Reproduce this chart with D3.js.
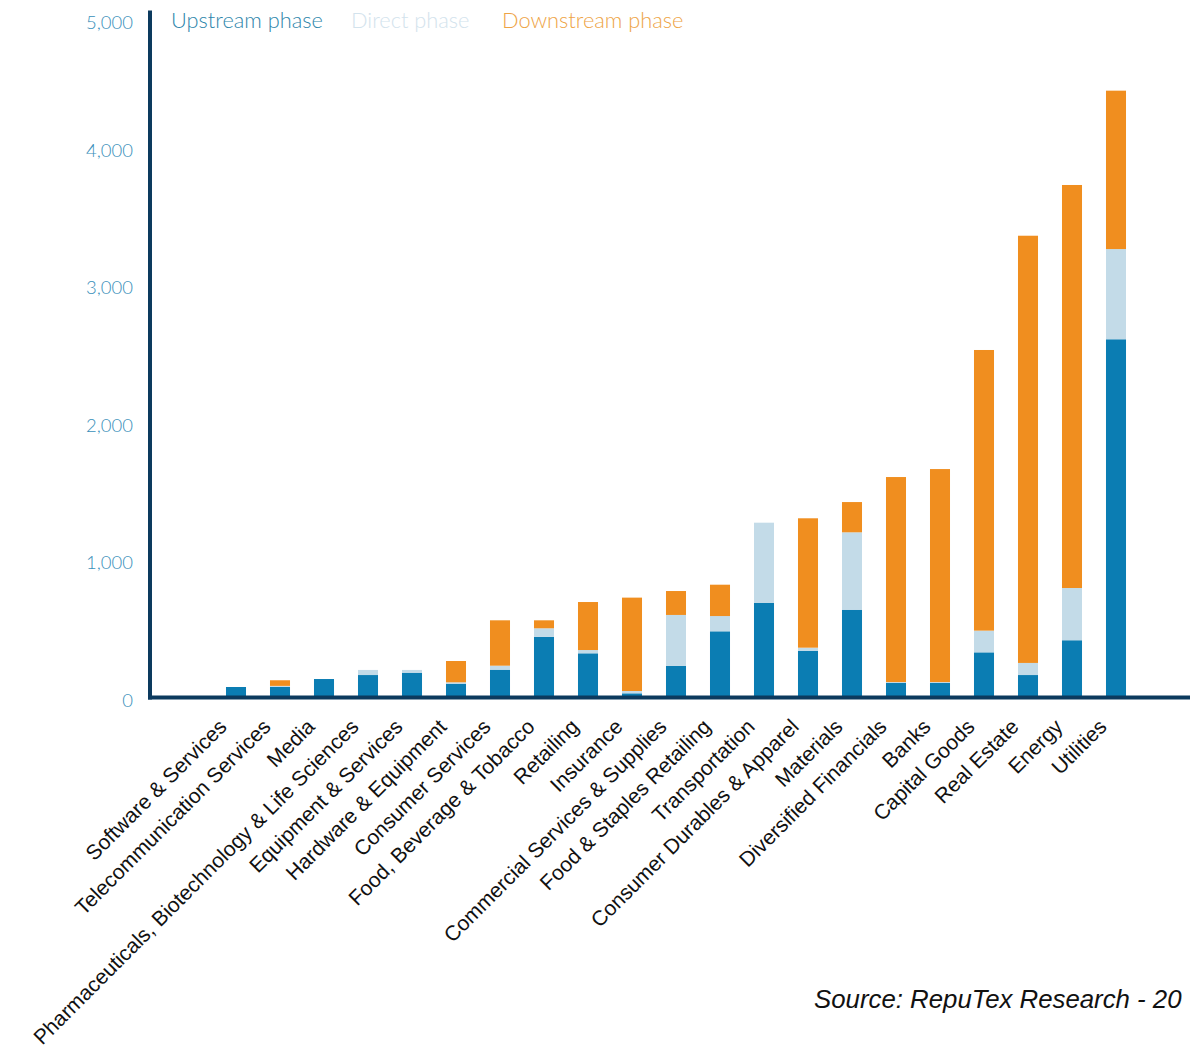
<!DOCTYPE html>
<html><head><meta charset="utf-8">
<script src="https://cdn.jsdelivr.net/npm/d3@7"></script>
<style>body{margin:0;background:#fff} svg{display:block}</style>
</head><body><svg id="chart" width="1190" height="1051"></svg>
<script>
const categories = ["Software & Services","Telecommunication Services","Media","Pharmaceuticals, Biotechnology & Life Sciences","Equipment & Services","Hardware & Equipment","Consumer Services","Food, Beverage & Tobacco","Retailing","Insurance","Commercial Services & Supplies","Food & Staples Retailing","Transportation","Consumer Durables & Apparel","Materials","Diversified Financials","Banks","Capital Goods","Real Estate","Energy","Utilities"];
const upstream   = [80, 80, 138, 167, 184, 104, 206, 444, 325, 34, 233, 485, 691, 342, 642, 109, 109, 332, 167, 420, 2609];
const direct     = [0, 8, 0, 37, 20, 10, 29, 63, 24, 17, 371, 111, 584, 24, 563, 7, 7, 158, 88, 380, 656];
const downstream = [0, 41, 0, 0, 0, 155, 330, 58, 349, 679, 174, 228, 0, 941, 220, 1491, 1549, 2041, 3107, 2931, 1152];
const seriesNames = ["Upstream phase", "Direct phase", "Downstream phase"];
const yTicks = [0, 1000, 2000, 3000, 4000, 5000];
const sourceText = "Source: RepuTex Research - 20";

const colors = {"Upstream phase":"#0b7db3","Direct phase":"#c3dbe8","Downstream phase":"#f08e1f"};
const legendColors = {"Upstream phase":"#2e86ab","Direct phase":"#d3e3ed","Downstream phase":"#eea446"};

const svg = d3.select("#chart");
const x = d3.scaleBand().domain(categories).range([214, 1138]).paddingInner(0.545).paddingOuter(0.2725);
const y = d3.scaleLinear().domain([0, 5000]).range([698, 10.5]);

const rows = categories.map((c, i) => ({cat: c, "Upstream phase": upstream[i], "Direct phase": direct[i], "Downstream phase": downstream[i]}));
const stacked = d3.stack().keys(seriesNames)(rows);

svg.append("g").selectAll("g").data(stacked).join("g")
  .attr("fill", d => colors[d.key])
  .selectAll("rect").data(d => d).join("rect")
  .attr("x", d => x(d.data.cat))
  .attr("width", x.bandwidth())
  .attr("y", d => y(d[1]))
  .attr("height", d => Math.max(0, y(d[0]) - y(d[1])));

// axes lines
const axisColor = "#0c3a5e";
svg.append("line").attr("x1", 150).attr("x2", 150).attr("y1", y(5000)).attr("y2", y(0) + 1.5)
  .attr("stroke", axisColor).attr("stroke-width", 4);
svg.append("line").attr("x1", 148).attr("x2", 1190).attr("y1", y(0) - 0.5).attr("y2", y(0) - 0.5)
  .attr("stroke", axisColor).attr("stroke-width", 4);

// y tick labels
const yAxis = svg.append("g").attr("transform", "translate(150,0)")
  .call(d3.axisLeft(y).tickValues(yTicks).tickFormat(d3.format(",")).tickSize(0).tickPadding(17));
yAxis.select(".domain").remove();
yAxis.selectAll("text")
  .attr("font-family", "Lato, 'Open Sans', sans-serif").attr("font-weight", 300)
  .attr("font-size", 18.5).attr("fill", "#3a90ba")
  .attr("dy", d => d === 5000 ? "0.95em" : "0.45em");

// x labels
const xg = svg.append("g");
xg.selectAll("text").data(categories).join("text")
  .attr("transform", d => `translate(${x(d) + x.bandwidth() / 2 - 8},728) rotate(-45)`)
  .attr("text-anchor", "end")
  .attr("font-family", "'Liberation Sans', Arial, sans-serif")
  .attr("font-size", 21).attr("fill", "#111")
  .text(d => d);

// legend
const legendX = [171, 351, 502];
const lg = svg.append("g");
lg.selectAll("text").data(seriesNames).join("text")
  .attr("x", (d, i) => legendX[i]).attr("y", 28)
  .attr("font-family", "Lato, 'Open Sans', sans-serif").attr("font-weight", 300)
  .attr("font-size", 21.8).attr("fill", d => legendColors[d])
  .text(d => d);

// source
svg.append("text").attr("x", 814).attr("y", 1008)
  .attr("font-family", "'Liberation Sans', Arial, sans-serif").attr("font-style", "italic")
  .attr("font-size", 25.8).attr("fill", "#111").text(sourceText);
</script></body></html>
